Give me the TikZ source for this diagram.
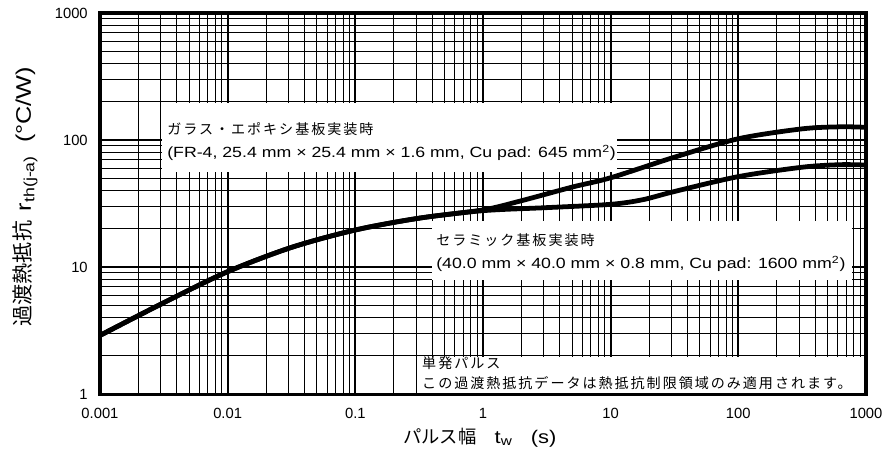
\documentclass[tikz,border=0pt]{standalone}
\usepackage{fontspec}
\setmainfont{Liberation Sans}
\newfontfamily\wide{Liberation Sans}[FakeStretch=1.2]
\newfontfamily\jp{Noto Sans CJK JP}[LetterSpace=14]
\newfontfamily\jpt{Noto Sans CJK JP}
\def\whitebox#1#2{
\fill [white] (#1) rectangle (#2);
}
\tikzset{minor/.style={line width=0.6pt},
  major/.style={line width=1.5pt},
  frame/.style={line width=2.2pt},
  curve/.style={line width=3.4pt,line join=round},
  tick/.style={inner sep=0pt,font=\fontsize{10.5}{12}\selectfont},
  note/.style={inner sep=0pt,anchor=west,font=\fontsize{10}{12}\selectfont\jp},
  spec/.style={inner sep=0pt,anchor=west,font=\fontsize{10.5}{12}\selectfont\wide},
  axtitle/.style={inner sep=0pt,font=\fontsize{13}{15}\selectfont\wide}}

\begin{document}
\begin{tikzpicture}[x=3.19cm,y=3.175cm]
    \useasboundingbox (-0.783,-0.583) rectangle (6.149,3.102);
    % log grid
    \foreach \d in {0,...,5}
      \foreach \m in {2,...,9}
        \draw [minor] ({\d+log10(\m)},0) -- ({\d+log10(\m)},3);
    \foreach \d in {0,1,2}
      \foreach \m in {2,...,9}
        \draw [minor] (0,{\d+log10(\m)}) -- (6,{\d+log10(\m)});
    \foreach \d in {1,...,5} \draw [major] (\d,0) -- (\d,3);
    \foreach \d in {1,2} \draw [major] (0,\d) -- (6,\d);
    % label areas
    \whitebox{0.486,1.75}{4.05,2.29}
    \whitebox{2.60,0.898}{5.89,1.362}
    \whitebox{2.49,0}{6,0.29}
    % glass epoxy
    \draw [curve] plot [smooth] coordinates {(0,0.462) (0.5,0.72) (1,0.964)
      (1.5,1.155) (2,1.292) (2.5,1.385) (3,1.450) (3.3,1.522) (3.7,1.630)
      (4,1.703) (4.5,1.865) (5,2.010) (5.5,2.088) (5.8,2.104) (6,2.100)};
    % ceramic
    \draw [curve] plot [smooth] coordinates {(0,0.462) (0.5,0.72) (1,0.964)
      (1.5,1.155) (2,1.292) (2.5,1.385) (3,1.444) (3.5,1.468) (4,1.494)
      (4.25,1.530) (4.5,1.595) (5,1.712) (5.5,1.786) (5.8,1.806) (6,1.803)};
    \draw [frame] (0,0) rectangle (6,3);
    \foreach \v [count=\i from 0] in {1,10,100,1000}
      \node [tick,anchor=east] (y\i) at (-0.094,\i) {\v};
    \foreach \v [count=\i from 0] in {0.001,0.01,0.1,1,10,100,1000}
      \node [tick] (x\i) at (\i,-0.15) {\v};
    \node [note] (glass1) at (0.525,2.087) {ガラス・エポキシ基板実装時};
    \node [spec] (glass2) at (0.525,1.900) {(FR-4, 25.4 mm × 25.4 mm × 1.6 mm, Cu pad: 645 mm\textsuperscript{2})};
    \node [note] (cer1) at (2.632,1.212) {セラミック基板実装時};
    \node [spec] (cer2) at (2.632,1.024) {(40.0 mm × 40.0 mm × 0.8 mm, Cu pad: 1600 mm\textsuperscript{2})};
    \node [note] (pulse1) at (2.522,0.244) {単発パルス};
    \node [note] (pulse2) at (2.522,0.090) {この過渡熱抵抗データは熱抵抗制限領域のみ適用されます。};
    \node [axtitle] (xlabel) at (2.976,-0.339) {{\jpt パルス幅}\quad t\textsubscript{w}\quad(s)};
    \node [axtitle,font=\fontsize{15}{17}\selectfont\wide,rotate=90] (ylabel) at (-0.585,1.555)
      {{\jpt 過渡熱抵抗}\hspace{7pt}r\textsubscript{th(j-a)}\hspace{9pt}(°C/W)};
\end{tikzpicture}
\end{document}
